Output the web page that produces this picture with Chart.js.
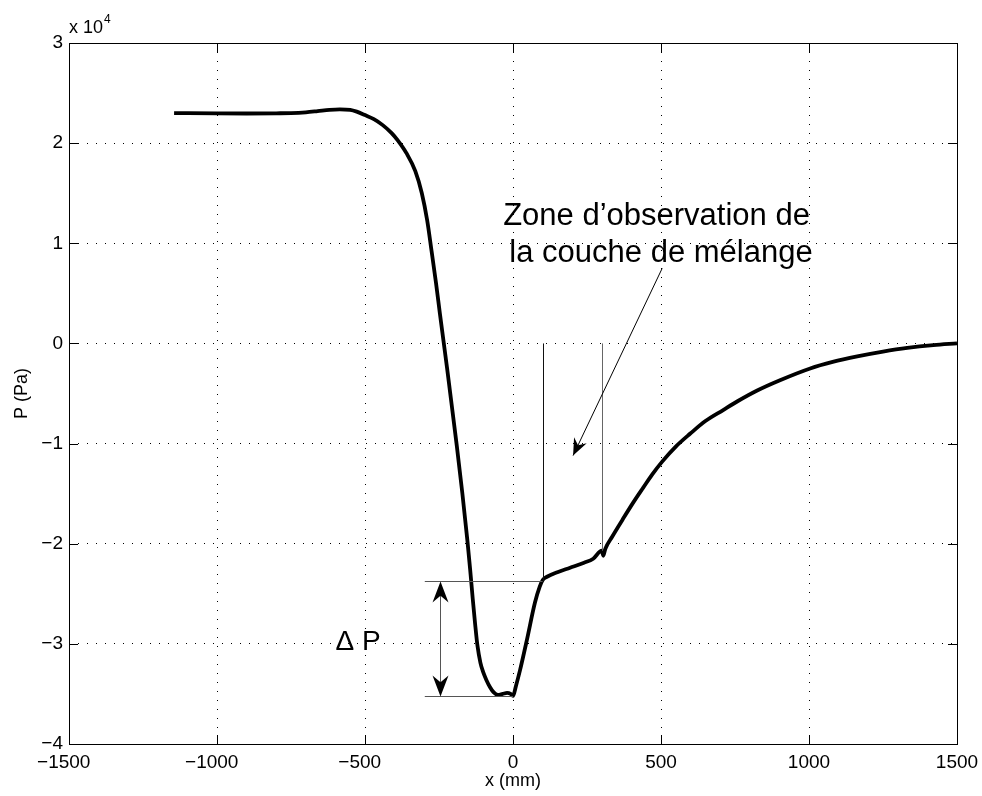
<!DOCTYPE html>
<html>
<head>
<meta charset="utf-8">
<script src="https://cdn.jsdelivr.net/npm/chart.js@4.4.1/dist/chart.umd.min.js"></script>
<style>
  html, body { margin: 0; padding: 0; background: #fff; }
  #wrap { width: 982px; height: 796px; }
</style>
</head>
<body>
<div id="wrap"><canvas id="pChart" width="982" height="796"></canvas></div>
<script>
// pressure profile (x in mm, P in Pa)
const xValues = [-1145, -1000, -900, -800, -750, -700, -660, -620, -585, -550, -528, -500, -470, -440,
    -410, -390, -360, -330, -308, -290, -275, -260, -247, -235, -223, -212, -190, -171, -154, -145,
    -136, -128, -120, -110, -101, -90, -78, -65, -51, -35, -20, -8, 0, 10, 24, 47, 74, 90, 101, 115, 150,
    193, 240, 271, 300, 305, 312, 335, 370, 406, 440, 470, 504, 550, 599, 650, 710, 760, 825,
    900, 1004, 1080, 1163, 1250, 1332, 1420, 1500];
const pValues = [23000, 22970, 22960, 22980, 23000, 23080, 23200, 23330, 23380, 23330, 23150, 22800, 22400, 21800,
    21000, 20300, 19000, 17200, 15000, 12300, 9200, 6000, 3000, 300, -2400, -5000, -10200, -15000, -19700, -22500,
    -25500, -28000, -30200, -31900, -32800, -33600, -34300, -34850, -35100, -35000, -34900, -35000, -35200, -34200, -32600, -29600, -25900, -24300, -23600, -23300, -22850,
    -22400, -21900, -21500, -20700, -21200, -20500, -19300, -17600, -15900, -14400, -13100, -11800, -10300, -9000, -7750, -6650, -5750, -4700,
    -3700, -2500, -1850, -1300, -820, -450, -170, 0];

const xTicks = [-1500, -1000, -500, 0, 500, 1000, 1500];
const yTicks = [-4, -3, -2, -1, 0, 1, 2, 3];   // x 10^4 Pa

// annotation values
const zoneX = [100, 300];          // mm, vertical lines of the observation zone
const zoneTop = 0;                 // Pa
const zoneBottom = [-23700, -20700];
const deltaLevels = [-23700, -35200];
const deltaStartX = -298;
const deltaEndX = [100, 0];
const deltaArrowX = -248;

const FONT = 'Liberation Sans, Arial, Helvetica, sans-serif';
// negative labels: digits stay centred on the tick, the minus hangs left
const xLabel = v => v < 0 ? '\u2212' + Math.abs(v) + '  ' : String(v);
const yLabel = v => v < 0 ? '\u2212' + Math.abs(v) : String(v);

function arrowHead(ctx, tx, ty, ang, len, wid) {
    ctx.save();
    ctx.translate(tx, ty);
    ctx.rotate(ang);
    ctx.beginPath();
    ctx.moveTo(0, 0);
    ctx.lineTo(-len, -wid / 2);
    ctx.lineTo(-len * 0.68, 0);
    ctx.lineTo(-len, wid / 2);
    ctx.closePath();
    ctx.fill();
    ctx.restore();
}

const annotate = {
    id: 'annotate',
    afterDatasetsDraw(chart) {
        const { ctx, chartArea: a, scales: { x, y } } = chart;
        ctx.save();

        // observation zone lines
        ctx.lineWidth = 1;
        zoneX.forEach((v, i) => {
            const px = Math.round(x.getPixelForValue(v)) + 0.5;
            ctx.strokeStyle = i === 0 ? '#111' : '#666';
            ctx.beginPath();
            ctx.moveTo(px, y.getPixelForValue(zoneTop));
            ctx.lineTo(px, y.getPixelForValue(zoneBottom[i]));
            ctx.stroke();
        });

        // delta P reference lines and double arrow
        ctx.strokeStyle = '#555';
        deltaLevels.forEach((v, i) => {
            const py = Math.round(y.getPixelForValue(v)) + 0.5;
            ctx.beginPath();
            ctx.moveTo(x.getPixelForValue(deltaStartX), py);
            ctx.lineTo(x.getPixelForValue(deltaEndX[i]), py);
            ctx.stroke();
        });
        const ax = Math.round(x.getPixelForValue(deltaArrowX)) + 0.5;
        const y1 = Math.round(y.getPixelForValue(deltaLevels[0])) + 0.5;
        const y2 = Math.round(y.getPixelForValue(deltaLevels[1])) + 0.5;
        ctx.beginPath();
        ctx.moveTo(ax, y1 + 6);
        ctx.lineTo(ax, y2 - 6);
        ctx.stroke();
        ctx.fillStyle = '#000';
        arrowHead(ctx, ax, y1, -Math.PI / 2, 21, 16);
        arrowHead(ctx, ax, y2, Math.PI / 2, 21, 16);

        ctx.font = '28px ' + FONT;
        ctx.textAlign = 'left';
        ctx.textBaseline = 'alphabetic';
        ctx.fillText('\u0394 P', x.getPixelForValue(-600), y.getPixelForValue(-30600));

        // zone label and arrow
        ctx.font = '31px ' + FONT;
        ctx.textAlign = 'center';
        ctx.fillText('Zone d\u2019observation de', x.getPixelForValue(485), y.getPixelForValue(11800));
        ctx.fillText('la couche de m\u00e9lange', x.getPixelForValue(500), y.getPixelForValue(8100));
        const sx = x.getPixelForValue(504), sy = y.getPixelForValue(7500);
        const ex = x.getPixelForValue(203), ey = y.getPixelForValue(-11200);
        ctx.strokeStyle = '#000';
        ctx.beginPath();
        ctx.moveTo(sx, sy);
        ctx.lineTo(ex, ey);
        ctx.stroke();
        arrowHead(ctx, ex, ey, Math.atan2(ey - sy, ex - sx), 17, 14);

        // axes box and inward ticks
        ctx.strokeStyle = '#000';
        ctx.lineWidth = 1;
        ctx.strokeRect(Math.round(a.left) + 0.5, Math.round(a.top) + 0.5,
            Math.round(a.right - a.left), Math.round(a.bottom - a.top));
        ctx.beginPath();
        xTicks.forEach(v => {
            const px = Math.round(x.getPixelForValue(v)) + 0.5;
            ctx.moveTo(px, a.bottom); ctx.lineTo(px, a.bottom - 9);
            ctx.moveTo(px, a.top); ctx.lineTo(px, a.top + 9);
        });
        yTicks.forEach(v => {
            const py = Math.round(y.getPixelForValue(v * 1e4)) + 0.5;
            ctx.moveTo(a.left, py); ctx.lineTo(a.left + 9, py);
            ctx.moveTo(a.right, py); ctx.lineTo(a.right - 9, py);
        });
        ctx.stroke();

        // exponent label
        ctx.textAlign = 'left';
        ctx.font = '18px ' + FONT;
        ctx.fillText('x 10', a.left, a.top - 10);
        const w = ctx.measureText('x 10').width;
        ctx.font = '12px ' + FONT;
        ctx.fillText('4', a.left + w + 1, a.top - 20);
        ctx.restore();
    }
};

new Chart(document.getElementById('pChart').getContext('2d'), {
    type: 'line',
    data: {
        datasets: [{
            data: xValues.map((v, i) => ({ x: v, y: pValues[i] })),
            borderColor: '#000',
            borderWidth: 3.8,
            pointRadius: 0,
            fill: false,
            cubicInterpolationMode: 'monotone'
        }]
    },
    options: {
        responsive: false,
        animation: false,
        layout: { padding: { left: 0, top: 43, right: 25, bottom: 0 } },
        plugins: { legend: { display: false }, tooltip: { enabled: false } },
        scales: {
            x: {
                type: 'linear',
                min: -1500,
                max: 1500,
                afterFit: s => { s.height = 52; s.paddingLeft = 0; s.paddingRight = 0; },
                afterBuildTicks: s => { s.ticks = xTicks.map(v => ({ value: v })); },
                ticks: {
                    callback: v => xLabel(v),
                    font: { family: FONT, size: 19 },
                    color: '#000',
                    padding: 7,
                    maxRotation: 0
                },
                grid: { color: '#000', lineWidth: 1, drawTicks: false },
                border: { display: false, dash: [1, 8] },
                title: {
                    display: true,
                    text: 'x (mm)',
                    font: { family: FONT, size: 18 },
                    color: '#000',
                    padding: { top: 0, bottom: 4 }
                }
            },
            y: {
                min: -40000,
                max: 30000,
                afterFit: s => { s.width = 69; s.paddingTop = 0; s.paddingBottom = 0; },
                afterBuildTicks: s => { s.ticks = yTicks.map(v => ({ value: v * 1e4 })); },
                ticks: {
                    callback: v => yLabel(v / 1e4),
                    font: { family: FONT, size: 19 },
                    color: '#000',
                    padding: 6
                },
                grid: { color: '#000', lineWidth: 1, drawTicks: false },
                border: { display: false, dash: [1, 8] },
                title: {
                    display: true,
                    text: 'P (Pa)',
                    font: { family: FONT, size: 18 },
                    color: '#000',
                    padding: { top: 11, bottom: 0 }
                }
            }
        }
    },
    plugins: [annotate]
});
</script>
</body>
</html>
